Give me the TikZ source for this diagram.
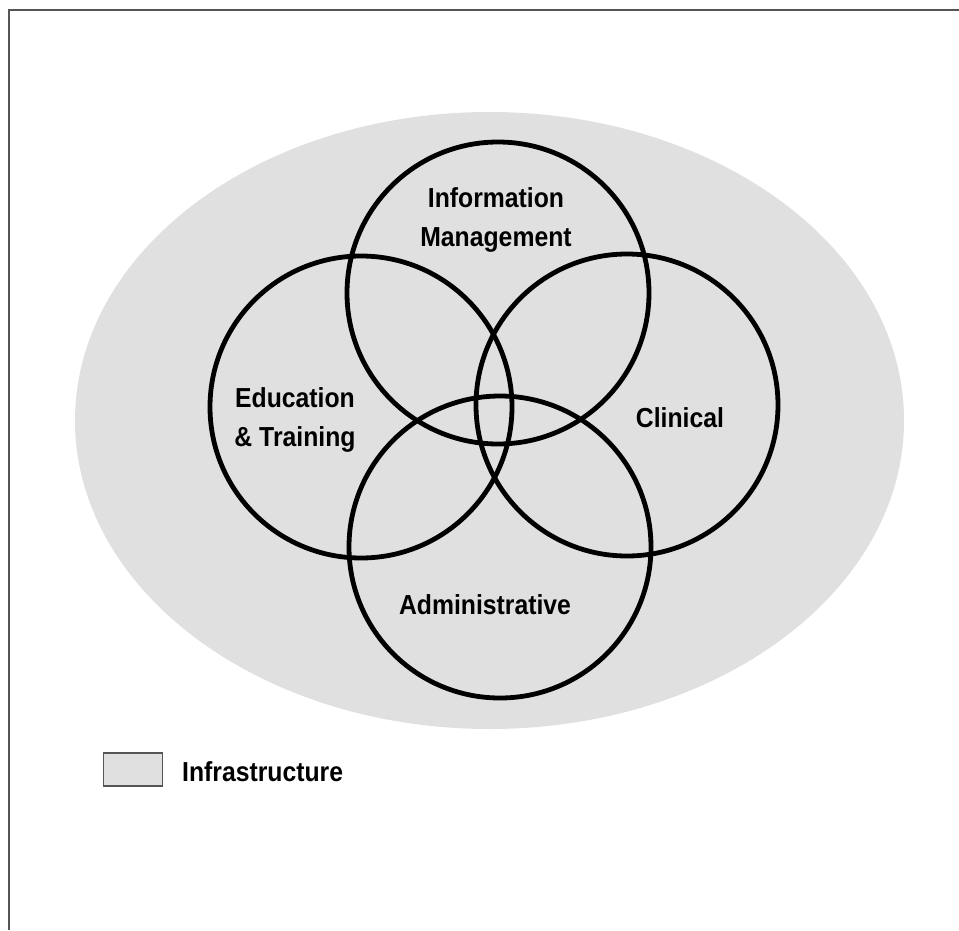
\documentclass[tikz,border=0pt]{standalone}
\usepackage{fontspec}
\setmainfont{Liberation Sans}[FakeStretch=0.9]
\usetikzlibrary{shapes.geometric}
\definecolor{infra}{HTML}{E0E0E0}
\definecolor{frame}{HTML}{555555}
\tikzset{
  area/.style={circle, draw=black, line width=4.8pt, minimum size=302pt, inner sep=0pt},
  lbl/.style={font=\fontsize{27.5}{39}\selectfont\bfseries, align=center, inner sep=0pt},
  infraarea/.style={ellipse, fill=infra, draw=none, minimum width=829pt, minimum height=617pt, inner sep=0pt},
}
\begin{document}
\begin{tikzpicture}[x=1pt,y=-1pt]
\useasboundingbox (0,0) rectangle (959,930);
% frame
\coordinate (ftr) at (959,10);
\coordinate (ftl) at (9,10);
\coordinate (fbl) at (9,930);
\draw[frame, line width=2.5pt] (ftr) -- (ftl) -- (fbl);
% infrastructure
\node[infraarea] (infra) at (489.5,420.5) {};
% circles
\node[area] (info) at (498,293) {};
\node[area] (edu) at (361,407) {};
\node[area] (clin) at (627,405) {};
\node[area] (admin) at (500,547) {};
% labels
\node[lbl] (infolbl) at (496,220) {Information\\Management};
\node[lbl] (edulbl) at (295,420) {Education\\\& Training};
\node[lbl] (clinlbl) at (680,418) {Clinical};
\node[lbl] (adminlbl) at (485,605) {Administrative};
% legend
\node[draw=frame, line width=1.5pt, fill=infra, minimum width=59pt, minimum height=33pt, inner sep=0pt] (legbox) at (133,769.5) {};
\node[lbl, anchor=west] (leglbl) at (182,772) {Infrastructure};
\end{tikzpicture}
\end{document}
